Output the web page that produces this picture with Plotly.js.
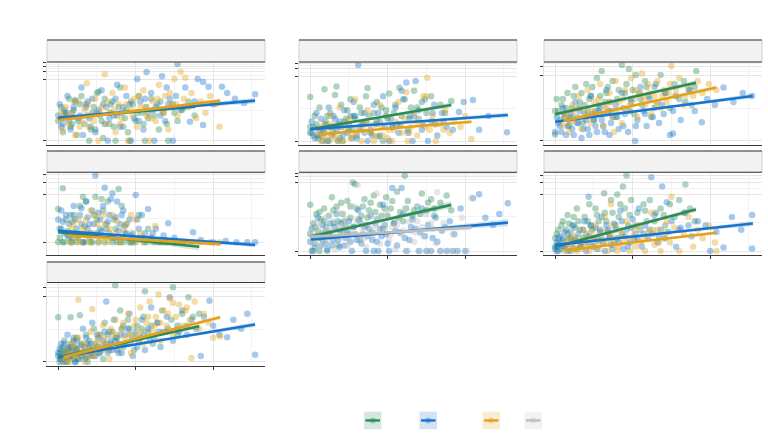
<!DOCTYPE html>
<html>
<head>
<meta charset="utf-8">
<script src="https://cdn.plot.ly/plotly-3.0.1.min.js"></script>
<style>
  html, body { margin: 0; padding: 0; background: #fff; }
  #chart { width: 768px; height: 442px; }
</style>
</head>
<body>
<div id="chart"></div>
<script>
// series colours (legend order)
const groups = ["green", "blue", "orange", "gray"];
const groupRgb = {
  green: [46, 139, 87],
  blue: [24, 116, 205],
  orange: [227, 162, 26],
  gray: [190, 190, 190],
};

// y values are log10(1 + n); x shared by every panel
const xMajor = [0, 50, 100];
const xMinor = [25, 75, 125];

// tick counts per panel (y axis is log10(1 + n))
const p1Ticks = [0, 150, 300, 450, 600];
const p2Ticks = [0, 200, 400, 600, 800];
const p3Ticks = [0, 150, 300, 450];
const p4Ticks = [0, 10, 20, 30];
const p5Ticks = [0, 5000, 10000, 15000, 20000];
const p6Ticks = [0, 20, 40, 60];
const p7Ticks = [0, 150, 300, 450];

// panel 1
const p1Green = [[0,0.7],[2,1.2],[3,0.3],[5,0.9],[7,1.5],[8,0.5],[10,1.1],[12,0.2],[13,0.8],[15,1.6],[17,0.6],[18,1.3],[20,0],[22,1.0],[24,0.4],[25,1.7],[27,0.9],[29,0.1],[31,1.2],[33,0.6],[35,1.4],[37,0],[38,0.9],[40,1.9],[42,0.5],[44,1.1],[46,0],[48,1.3],[50,0.7],[52,1.6],[54,1.0],[56,0],[58,0.8],[60,1.5],[63,1.2],[65,0.4],[68,1.0],[71,0],[74,1.3],[77,0.7],[80,1.1],[84,1.4],[88,0.9],[11,1.45],[26,1.75],[45,0.3],
  [4,1.0],[9,0.6],[14,1.3],[19,0.9],[21,0.4],[23,1.2],[28,0.7],[30,1.5],[34,1.0],[36,0.5],[39,1.2],[43,0.8],[47,1.4],[51,1.0],[55,0.6],[57,1.2],[62,0.9],[66,1.4],[70,0.6],[75,1.0]];
const p1Blue = [[0,0.9],[1,1.3],[3,0.6],[4,1.1],[6,1.6],[8,0.4],[9,1.0],[11,1.4],[13,0.7],[15,1.9],[16,0.2],[18,1.2],[20,0.8],[22,1.5],[24,0.3],[26,1.1],[28,1.8],[30,0.6],[32,0],[34,1.3],[36,0.9],[38,2.0],[40,0.5],[42,1.2],[44,1.6],[47,0],[49,0.8],[51,2.2],[53,1.4],[55,0.4],[58,1.0],[60,1.7],[62,0],[64,1.3],[67,2.3],[69,0.7],[72,1.5],[74,0],[77,2.74],[79,1.1],[82,1.9],[85,0.68],[88,1.4],[90,2.2],[93.5,2.1],[93.5,0.56],[97,1.93],[100,1.3],[105.6,1.93],[109,1.7],[114,1.5],[120,1.35],[127,1.66],[70,1.9],[57,2.45],
  [2,0.5],[5,1.0],[7,0.7],[10,1.2],[14,0.9],[19,1.4],[21,0.5],[25,1.0],[29,1.3],[33,0.8],[37,1.5],[41,1.0],[46,1.3],[52,0.7],[56,1.5],[61,1.1],[66,0.9],[71,1.3],[76,1.6],[81,1.2]];
const p1Orange = [[1,0.8],[3,0.4],[5,1.2],[7,0.6],[9,1.0],[11,0.2],[13,1.4],[15,0.7],[17,1.1],[18.5,2.05],[20,0.5],[22,0.9],[24,1.5],[26,0],[28,1.2],[30,2.37],[31,0.6],[33,1.0],[35,1.7],[37,0.3],[39,1.3],[41,0.8],[43,1.9],[45,0],[47,1.1],[49,1.5],[51,0.5],[53,1.2],[55,1.8],[57,0.9],[59,0],[61,1.4],[63,0.7],[65,2.0],[67,1.1],[69,1.6],[71,0.4],[73,1.3],[75,2.2],[77,0.9],[79,2.46],[82,2.25],[84,1.2],[86,1.7],[89,0.8],[92,1.4],[95,1.0],[98,1.6],[102,1.3],[104,0.5],
  [2,1.0],[6,0.9],[10,1.4],[14,0.5],[19,1.3],[23,0.7],[27,1.0],[32,1.4],[36,1.1],[40,0.6],[44,1.3],[48,0.9],[52,1.6],[56,1.2],[60,0.8],[64,1.5],[68,1.0],[72,1.7],[76,1.3],[81,1.5]];
const p1Fit = {
  green: { x: [0.2, 88.4], y: [0.8, 1.21], se: [0.08, 0.03, 0.07] },
  blue: { x: [0.2, 127], y: [0.82, 1.43], se: [0.06, 0.025, 0.1] },
  orange: { x: [1.3, 104.5], y: [0.74, 1.43], se: [0.07, 0.03, 0.08] },
};

// panel 2
const p2Green = [[0,1.58],[0,0.5],[2,0.2],[3,0.9],[5,0.1],[6,1.2],[8,0.4],[9.2,1.85],[10,0.7],[12,0],[13,1.0],[15,0.3],[17,1.95],[18,0.6],[20,1.3],[21,0],[23,0.8],[25,0.4],[26,1.5],[28,0.9],[30,0.2],[32,1.2],[34,0.6],[36,1.6],[37,1.9],[39,0.3],[41,1.0],[43,1.4],[45,0.7],[47,0],[49,1.1],[51,1.7],[53,0.5],[55,1.3],[57.6,1.91],[59,0.9],[61,1.5],[63,0.4],[65,1.2],[67,1.8],[70,0.8],[72,1.4],[75,1.0],[78,1.6],[81,0.6],[84,1.3],[87,1.0],[91,1.43],[16,1.65],[44,0.15],
  [1,0.3],[4,0.6],[7,0.2],[11,0.9],[14,0.5],[19,0.1],[22,0.7],[24,1.1],[27,0.4],[29,0.8],[33,1.0],[35,0.3],[38,0.9],[42,0.6],[46,1.2],[50,0.8],[54,1.0],[58,0.6],[64,0.9],[69,1.2]];
const p2Blue = [[0,0.3],[1,0.7],[3,0.1],[4,1.0],[6,0.4],[8,0],[10,0.6],[12,1.2],[14,0.2],[16,0.8],[18,0],[20,0.5],[22,1.1],[24,0.3],[26,0.9],[28,1.4],[31,2.72],[30,0.1],[33,0.6],[35,1.0],[37,0],[39,0.4],[41,1.3],[43,0.7],[45,0.2],[47,1.6],[49,0.9],[51,0],[53,0.5],[55,1.2],[57,0.3],[59,1.8],[62,2.1],[64,0.8],[66,0],[68,2.15],[70,1.1],[72,0.4],[74,1.5],[76,0],[78,0.7],[80,1.3],[82,0.2],[85,1.0],[88,0.5],[92,0.4],[96,1.04],[99,1.4],[105,1.47],[109,0.4],[115,0.9],[127,0.31],[60,1.5],
  [2,0.5],[5,0.2],[7,0.8],[9,0.3],[11,0],[13,0.5],[15,0.9],[17,0.4],[19,0.7],[21,0.2],[25,0.6],[27,0.1],[29,0.9],[32,0.4],[36,0.7],[40,0.2],[44,1.0],[48,0.5],[52,0.8],[56,0.6],[63,0.3],[67,0.9],[73,0.6],[79,1.0],[86,0.7]];
const p2Orange = [[5,0.3],[7,0],[9,0.6],[11,0.2],[13,0.9],[15,0.1],[17,0.5],[19,1.2],[21,0],[23,0.4],[25,0.8],[27,0.2],[29,1.5],[31,0.5],[33,0],[35,0.7],[37,1.1],[39,0.3],[41,0],[43,0.6],[45,1.3],[47,0.2],[49,0.9],[51,0.4],[53,0],[55,0.7],[57,1.4],[59,0.3],[61,0.8],[63,0],[65,0.5],[67,1.0],[69,0.2],[71,0.6],[73,1.6],[75.5,2.27],[75,1.6],[77,0.4],[79,0.9],[81,0],[84,0.6],[87,1.1],[90,0.3],[93,0.7],[97,0.5],[100,0.9],[104,0.07],[62,1.75],
  [6,0.5],[8,0.2],[10,0],[12,0.4],[14,0.6],[16,0.2],[18,0],[22,0.6],[26,0.1],[30,0.3],[34,0.4],[38,0.6],[42,0.2],[46,0.5],[50,0.1],[54,0.4],[58,0.6],[64,0.3],[68,0.7],[74,0.5],[80,0.6],[86,0.4]];
const p2Fit = {
  green: { x: [0, 91], y: [0.42, 1.29], se: [0.07, 0.03, 0.09] },
  blue: { x: [0, 127.5], y: [0.42, 0.93], se: [0.05, 0.02, 0.09] },
  orange: { x: [6, 104], y: [0.24, 0.69], se: [0.05, 0.02, 0.06] },
};

// panel 3
const p3Green = [[0,0.22],[0,1.0],[1,1.4],[3,0.7],[4,1.2],[6,0.9],[8,1.6],[9,0.5],[11,1.1],[13,1.8],[14,0.8],[16,1.3],[18,0.6],[20,1.9],[21,1.0],[23,1.5],[25,0.7],[27,2.1],[28,1.2],[30,2.33],[31,0.9],[33,1.6],[35,1.3],[37,2.0],[39,0.8],[41,1.7],[43,2.53],[44,1.1],[46,1.9],[47.5,2.4],[49,1.4],[51,0.9],[52,2.2],[54,1.6],[56,1.2],[58,2.0],[60,1.5],[62,0.8],[64,1.8],[66,1.3],[68,2.2],[71,1.6],[74,1.1],[77,1.9],[80,1.4],[83,2.0],[86,1.7],[88,1.2],[91,2.33],[90,1.8],
  [2,1.0],[5,1.4],[7,1.1],[10,0.8],[12,1.5],[15,1.1],[17,1.6],[19,1.2],[22,1.4],[24,1.8],[26,1.0],[29,1.5],[32,1.3],[34,1.8],[36,1.0],[40,1.4],[45,1.6],[50,1.7],[55,1.4],[59,1.8]];
const p3Blue = [[0,0.3],[1,0.8],[3,0.5],[5,1.1],[7,0.2],[9,0.7],[11,0.4],[13,1.3],[15,0.6],[17,0.1],[19,0.9],[21,0.4],[23,1.5],[25,0.7],[27,0.3],[29,1.1],[31,0.5],[33,1.7],[35,0.2],[37,0.8],[39,1.2],[41,0.4],[43,1.6],[45,0.9],[47,0.3],[49,1.3],[51.6,0],[53,0.7],[55,1.8],[57,1.0],[59,0.5],[61,1.4],[63,0.8],[65,1.9],[67,0.6],[69,1.2],[71,1.6],[74,0.2],[76,1.0],[78,1.5],[81,0.7],[84,1.3],[87,1.7],[90,1.0],[94.6,0.62],[98,1.4],[103,1.2],[108.6,1.78],[115,1.3],[121,1.6],[127,1.5],[76,0.25],
  [2,0.6],[4,0.3],[6,0.8],[8,0.5],[10,0.9],[12,0.2],[14,0.6],[16,1.0],[18,0.4],[20,0.7],[22,0.2],[24,0.9],[26,0.5],[28,1.0],[30,0.7],[32,0.3],[34,1.0],[36,0.6],[40,0.8],[44,0.5],[48,1.0],[52,0.5],[58,0.9],[64,1.1],[70,0.9]];
const p3Orange = [[5,0.5],[7,0.9],[9,0.3],[11,1.2],[13,0.7],[15,1.5],[17,0.4],[19,1.0],[21,1.7],[23,0.6],[25,1.3],[27,0.9],[29,1.9],[31,0.5],[33,1.1],[35,1.6],[37,0.8],[39,2.0],[41,1.3],[43,0.6],[45,1.7],[47,1.0],[49,2.1],[51,1.4],[53,0.8],[56,2.25],[55,1.6],[58,1.2],[60,1.9],[62,0.9],[64,1.5],[66,2.0],[68,1.1],[70,1.7],[72,1.3],[75,2.5],[74,1.9],[77,1.5],[80,2.1],[83,1.2],[86,1.8],[89,1.5],[92,2.0],[95,1.6],[99,1.9],[104,1.7],[38,0.3],
  [6,0.8],[10,0.6],[12,1.0],[16,1.1],[20,0.8],[24,1.0],[28,1.4],[32,1.2],[36,1.3],[40,1.0],[44,1.4],[48,1.2],[52,1.7],[57,1.4],[61,1.6],[65,1.2],[69,1.5],[73,1.6],[78,1.7],[84,1.5]];
const p3Fit = {
  green: { x: [0, 90.8], y: [0.89, 1.94], se: [0.07, 0.03, 0.08] },
  blue: { x: [0, 127.5], y: [0.64, 1.5], se: [0.05, 0.02, 0.08] },
  orange: { x: [5.4, 103.9], y: [0.67, 1.78], se: [0.07, 0.03, 0.08] },
};

// panel 4
const p4Green = [[0,0.73],[3,1.19],[0,0],[2,0.3],[4,0],[5,0.5],[7,0.1],[8,0],[10,0.6],[11,0.2],[12,0],[14,0.8],[15,0.4],[17,0],[18,0.9],[20,0.1],[21,0],[23,0.6],[24,1.0],[26,0],[27,0.3],[29,0.7],[30,0],[32,0.9],[33,0.2],[35,0],[36,0.5],[38,0],[39,1.17],[41,0.8],[42,0],[44,0.4],[46,0],[48,0.2],[50,0],[52,0.6],[55,0],[58,0.3],[61,0],[65,0],[70,0],[75,0],[80,0],[16,1.0],[28,0.95],[9,0.45],
  [1,0.1],[3,0],[6,0.25],[9,0],[13,0.1],[16,0],[19,0.3],[22,0],[25,0.5],[31,0.4],[34,0.1],[37,0.3],[40,0],[43,0.2],[47,0],[53,0.1],[57,0],[63,0],[68,0]];
const p4Blue = [[0,0.5],[1,0.3],[2,0.7],[4,0.2],[5,0.6],[7,0.4],[9,0.1],[10,0.8],[12,0.3],[14,0.6],[16,0],[18,0.9],[20,0.4],[22,0.7],[24,1.47],[25,0.2],[27,0.5],[29,0.8],[31,0.3],[33,0.6],[35,1.08],[36,0.1],[38,0.9],[40,0.4],[42,0.7],[44,0.2],[46,0.5],[48,0],[50,1.04],[52,0.3],[54,0.6],[56,0.2],[58,0.73],[60,0.1],[63,0.3],[66,0],[71,0.42],[75,0.1],[80,0],[87,0.22],[92,0.05],[100,0],[108,0.03],[115,0],[122,0],[127,0],[30,1.2],[34,0.95],
  [3,0.45],[6,0.15],[8,0.6],[11,0.5],[13,0.15],[15,0.75],[17,0.35],[19,0.55],[21,0.2],[23,0.4],[26,0.65],[28,0.25],[32,0.45],[37,0.55],[39,0.25],[41,0.6],[43,0.35],[47,0.15],[51,0.5],[55,0.1],[61,0.2],[68,0.15]];
const p4Orange = [[6,0.2],[8,0],[10,0.4],[12,0.1],[14,0],[16,0.3],[18,0.5],[20,0],[22,0.2],[24,0.6],[26,0],[28,0.1],[30,0.4],[32,0],[35,0.6],[37,0.2],[40,0],[42,0.3],[45,0.1],[48,0],[50,0.5],[53,0.2],[56,0],[59,0.1],[62.6,0.36],[66,0],[70,0.05],[75,0],[80,0],[86,0],[92,0],[98,0],[104,0],
  [9,0.3],[13,0.5],[17,0.2],[21,0.7],[25,0.4],[29,0.6],[33,0.3],[38,0.45],[44,0.4],[47,0.6]];
const p4Fit = {
  green: { x: [0, 91], y: [0.22, -0.1], se: [0.03, 0.015, 0.08] },
  blue: { x: [0, 127], y: [0.25, -0.06], se: [0.04, 0.015, 0.05] },
  orange: { x: [6.6, 104.5], y: [0.145, -0.04], se: [0.03, 0.015, 0.04] },
};

// panel 5
const p5Green = [[0,2.5],[0,0.9],[1,0],[2,1.5],[3,0.4],[4,2.0],[5,1.1],[6,0],[7,1.7],[8,0.6],[9,2.3],[10,1.3],[11,0],[12,1.9],[14,2.9],[13,0.8],[15,1.5],[17,2.4],[18,0.3],[19,1.1],[21,2.0],[22,1.6],[24,2.7],[25,0.9],[27.5,3.7],[26,1.8],[29,3.6],[28,1.3],[30,2.3],[32,0.6],[33,1.9],[35,2.8],[36,1.4],[38,2.2],[40,1.0],[41,3.0],[43,1.7],[45,2.5],[47,1.2],[49,2.9],[50,1.9],[52,2.3],[54,1.5],[56,3.2],[58,2.1],[61,4.07],[60,1.6],[63,2.7],[66,1.9],[69,2.4],[72,3.1],[75,2.2],[78,2.8],[81,1.8],[84,2.6],[88,3.0],[91,2.2],
  [3,1.3],[6,2.1],[9,1.6],[12,1.0],[15,2.2],[18,1.6],[20,2.6],[23,1.3],[26,2.4],[31,1.7],[34,2.4],[37,1.8],[39,2.6],[42,2.1],[46,1.9],[48,2.3],[53,2.7],[57,1.8],[62,2.3],[67,2.2],[71,2.0],[76,2.6],[80,2.3]];
const p5Blue = [[0,0.5],[1,1.2],[2,0],[4,0.8],[5,1.8],[7,0.3],[9,1.0],[11,0.1],[13,1.5],[15,0.6],[17,2.0],[19,0.2],[21,1.1],[23,0.7],[25,1.6],[27,0],[29,0.9],[31,2.2],[33,0.4],[35,1.3],[37,0.8],[39,1.9],[41,0],[43,0.5],[45,1.2],[47,2.5],[49,0.9],[51,0],[53,3.4],[54,1.5],[56,0.3],[59,3.4],[58,1.0],[60,2.0],[62,0],[64,0.6],[66,1.7],[68,1.2],[70,0],[72,2.3],[74,0.8],[76,1.4],[78,0],[80,1.9],[82,0.5],[85,1.1],[88,0],[90,1.6],[93,0.9],[97,2.3],[100,0],[105,2.85],[109,3.06],[113,1.8],[118,1.4],[122,2.0],[127.5,2.58],
  [3,0.2],[6,0.7],[8,1.4],[10,0.4],[12,0.9],[14,0.3],[16,1.3],[18,0.6],[20,1.5],[22,0.3],[24,1.0],[26,0.5],[28,1.3],[30,0.6],[32,1.6],[34,0.9],[36,0],[38,1.2],[40,0.6],[42,1.5],[44,0],[46,0.8],[48,1.4],[50,0.4],[55,1.1],[61,0.7],[65,1.3],[71,1.0],[75,0],[79,0.7],[84,0],[87,1.3],[92,0],[95,0]];
const p5Gray = [[0,1.0],[2,0.4],[4,1.5],[6,0.2],[8,0.9],[10,1.8],[12,0.5],[14,1.2],[16,0.1],[18,2.1],[20,0.7],[22,1.4],[24,0.3],[26,1.0],[28,2.4],[30.7,3.57],[30,1.6],[32,0.6],[34,1.2],[36,0.2],[38,1.9],[40,0.8],[43,3.1],[42,1.4],[45,0.4],[47,1.0],[49,2.0],[51,0.6],[53,1.3],[55,0.1],[57,1.7],[59,0.9],[61,2.3],[63,0],[65,1.1],[67,0.5],[69,1.6],[71,0],[73,0.8],[75,2.0],[77,0],[79,1.2],[82,3.17],[81,0.4],[84,0],[86,1.5],[89,0],[92,0.9],[95,0],[98,1.8],[101,0],[104,2.88],
  [1,0.6],[3,1.2],[5,0.8],[7,1.4],[9,0.5],[11,1.1],[13,0.8],[15,1.6],[17,0.6],[19,1.3],[21,1.0],[23,1.7],[25,0.6],[27,1.3],[29,0.9],[33,1.5],[35,0.7],[37,1.4],[41,1.1],[44,1.8],[48,1.3],[52,0.9],[56,1.4],[60,1.1],[64,1.6],[68,1.0],[72,1.3],[78,1.5]];
const p5Fit = {
  green: { x: [0, 91], y: [0.77, 2.49], se: [0.15, 0.07, 0.2] },
  blue: { x: [0.6, 127.5], y: [0.63, 1.53], se: [0.1, 0.05, 0.2] },
  gray: { x: [0, 104], y: [0.77, 1.26], se: [0.12, 0.05, 0.15] },
};

// panel 6
const p6Green = [[0,0.1],[0,0.3],[1,0],[2,0.5],[3,0.2],[5,0.7],[6,0.1],[8,0.85],[8,0.4],[10,0],[11,0.6],[13,0.3],[14,1.0],[16,0.5],[17,0.1],[19,0.8],[20,0.4],[22,1.1],[23,0.6],[25,0.2],[26,1.0],[28,0.7],[30,0.3],[31.6,1.36],[32,0.9],[34,0.5],[36,1.2],[38,0.2],[40,1.33],[41,0.8],[43.7,1.52],[43,0.4],[46,1.78],[45,1.0],[47,0.6],[49,1.2],[51,0.3],[53,0.9],[55,0.5],[57,1.1],[59,0.7],[61,1.2],[63,0.4],[65,0.9],[68,1.0],[71,0.6],[74,1.1],[77,0.8],[80,1.2],[84,1.57],[83,0.9],[87,1.0],[90,0.7],
  [1,0.4],[2,0.15],[4,0.6],[5,0.3],[7,0.5],[9,0.65],[10,0.3],[12,0.8],[13,0.55],[15,0.7],[18,0.3],[21,0.7],[24,0.5],[27,0.85],[29,0.5],[33,0.7],[35,0.3],[37,0.9],[39,0.6],[42,1.1],[48,0.85],[52,0.6],[58,0.95],[64,0.7],[70,0.85]];
const p6Blue = [[0,0.05],[1,0.2],[2,0],[3,0.35],[5,0.1],[6,0.45],[8,0],[9,0.3],[11,0.15],[12,0.6],[14,0.05],[15,0.4],[17,0.2],[19,0.7],[20,0],[21.5,1.28],[22,0.35],[24,0.1],[26,0.55],[28,0.25],[30,0.8],[32,0],[34,0.45],[36,0.15],[38,0.65],[40,0.3],[42,0.95],[44,0.05],[46,0.5],[48,0.2],[50,0.75],[52,0.4],[54,1.0],[56,0.1],[58,0.6],[60,0.3],[62,1.74],[64,0.85],[66,0.2],[69,1.52],[68,0.5],[72,1.15],[71,0.3],[75,0.7],[78,0.1],[81,0.55],[84,0.9],[88,0.35],[92,0.7],[97,0.6],[100,0],[104,0.45],[108.6,0.08],[114,0.8],[120,0.5],[127,0.06],[127,0.85],
  [1,0.1],[2,0.3],[4,0.05],[5,0.25],[7,0.15],[10,0.45],[13,0.25],[16,0.1],[18,0.5],[21,0.2],[23,0.6],[25,0.3],[27,0.05],[29,0.45],[31,0.2],[33,0.6],[35,0.35],[37,0.05],[39,0.5],[41,0.2],[43,0.7],[45,0.35],[47,0.1],[49,0.55],[53,0.3],[57,0.4],[61,0.5],[67,0.35],[73,0.45],[80,0.5],[86,0.6]];
const p6Orange = [[6,0],[8,0.2],[10,0.05],[12,0.35],[14,0],[16,0.15],[18,0.5],[20,0.1],[22,0],[24,0.3],[26,0.6],[28,0.05],[30,0.25],[32,0.8],[34,0],[36,1.1],[36,0.4],[38,0.15],[40,0],[42,0.5],[44,0.2],[46,0.7],[48,0],[50,0.35],[52,0.1],[54,0.6],[56,0.25],[58,0],[60,0.45],[62,0.9],[64,0.15],[66,0.5],[68,0],[70,0.3],[72,0.7],[75,1.28],[74,0.2],[77,0.55],[80,0],[83,0.4],[86,0.8],[89,0.1],[92,0.5],[95,0.3],[99,0.6],[103,0.2],[104,0],
  [7,0.1],[9,0.3],[11,0.15],[13,0.05],[15,0.25],[17,0.05],[19,0.3],[21,0.2],[23,0.45],[25,0.1],[27,0.35],[29,0.15],[31,0.45],[33,0.2],[35,0.35],[37,0.6],[39,0.3],[41,0.1],[43,0.35],[47,0.3],[51,0.5],[55,0.2],[59,0.35],[63,0.5],[67,0.2],[71,0.45]];
const p6Fit = {
  green: { x: [0, 90.8], y: [0.1, 0.98], se: [0.04, 0.02, 0.06] },
  blue: { x: [0, 127.5], y: [0.14, 0.65], se: [0.03, 0.015, 0.06] },
  orange: { x: [6.5, 104], y: [0.02, 0.43], se: [0.03, 0.015, 0.04] },
};

// panel 7
const p7Green = [[0,1.48],[0,0.2],[1,0],[2,0.4],[3,0.1],[4,0.7],[5,0.3],[6,0],[8,1.48],[7,0.5],[9,0.2],[10,0.8],[11,0],[12,0.4],[14,1.55],[13,0.1],[15,0.6],[16,0.3],[18,0.9],[19,0],[20,0.5],[22,0.2],[23,1.1],[24,0.6],[26,0.3],[27,0.9],[29,0.1],[30,1.3],[31,0.6],[33,0.4],[35,1.0],[36.8,2.54],[37,0.7],[39,0.3],[40,1.7],[41,1.1],[43,0.6],[45,1.4],[47,0.9],[49,0.4],[51,1.2],[53,0.8],[56,2.34],[55,1.5],[58,1.0],[61,0.6],[64,1.3],[67,1.7],[70,1.0],[74,2.47],[73,1.4],[77,0.9],[80,1.6],[84,2.14],[83,1.2],[87,1.5],[91,1.6],
  [1,0.3],[2,0.1],[3,0.5],[4,0.2],[5,0],[6,0.4],[7,0.15],[8,0.6],[9,0.35],[10,0.1],[11,0.5],[12,0.8],[13,0.3],[15,0.2],[17,0.5],[18,0.15],[20,0.7],[21,0.3],[25,0.5],[28,0.4],[32,0.9],[34,0.6],[38,0.8],[42,0.5],[46,1.1],[50,0.8],[54,1.1],[60,1.2]];
const p7Blue = [[0,0.3],[1,0.1],[2,0.6],[3,0],[5,0.4],[6,0.9],[8,0.2],[9,0.5],[11,0],[12,0.7],[14,0.3],[16,1.1],[17,0.1],[19,0.6],[21,0.4],[22,1.3],[24,0.2],[26,0.8],[28,0.5],[31,2.0],[30,1.0],[32,0.3],[34,0.7],[36,1.4],[38,0.4],[40,0.9],[42,1.2],[44,0.6],[46,1.6],[48,0.2],[50,1.0],[52,0.7],[54,1.4],[56,0.4],[58,1.1],[60,1.8],[62,0.8],[64,1.3],[66,0.5],[68,1.0],[72,2.14],[70,1.5],[74,0.7],[77,1.2],[80,1.7],[83,0.9],[86,1.4],[89,1.1],[92,0.2],[94,1.5],[97.6,2.03],[100,1.2],[104,0.9],[109,0.82],[113,1.4],[118,1.1],[122,1.6],[127,0.24],
  [1,0.45],[2,0.2],[4,0.3],[4,0.6],[6,0.15],[7,0.45],[9,0.3],[10,0.7],[12,0.45],[13,0.1],[15,0.55],[17,0.35],[18,0.8],[20,0.2],[21,0.6],[23,0.4],[25,0.9],[27,0.3],[29,0.7],[31,0.5],[33,1.0],[35,0.4],[37,0.8],[39,0.6],[41,0.3],[43,0.9],[45,1.1],[47,0.7],[51,0.5],[55,0.9],[59,0.7],[65,1.0],[71,1.1],[78,1.0]];
const p7Orange = [[3,0.1],[5,0.4],[7,0],[9,0.6],[11,0.2],[13,2.06],[13,0.8],[15,0.3],[17,0],[19,0.5],[21,1.0],[22,1.75],[23,0.2],[25,0.7],[27,0.4],[29,1.2],[31,0.6],[33,0.1],[35,0.9],[37,1.4],[39,0.5],[41,1.1],[43,0.8],[45,1.6],[47,0.3],[49,1.2],[51,0.9],[53,1.8],[55,0.6],[57,1.3],[59,2.0],[61,1.0],[64.7,2.23],[63,1.5],[66,0.7],[68,1.7],[70,1.2],[72,2.1],[74,1.95],[74,0.9],[76,1.5],[78,1.9],[80,1.2],[82,1.7],[86,0.13],[85,1.4],[88,2.0],[91,1.1],[94,1.6],[97,1.3],[100,0.8],[104.5,0.85],
  [4,0.2],[6,0.1],[8,0.3],[10,0.5],[12,0.2],[14,0.4],[16,0.6],[18,0.3],[20,0.2],[24,0.5],[26,0.9],[28,0.6],[30,0.8],[32,0.4],[34,1.1],[38,0.9],[42,1.3],[46,0.9],[50,1.4],[54,1.0],[58,1.5],[62,1.2],[66,1.3],[71,1.6],[77,1.1],[83,1.8]];
const p7Fit = {
  green: { x: [0, 91], y: [0.16, 1.18], se: [0.05, 0.02, 0.06] },
  blue: { x: [0, 127], y: [0.16, 1.24], se: [0.05, 0.02, 0.08] },
  orange: { x: [3.4, 104.5], y: [0.16, 1.48], se: [0.07, 0.03, 0.07] },
};

// page geometry (pixels)
const W = 768, H = 442;
const colPx = [[47, 265], [299, 517], [544, 762]];
const rowPx = [[62, 144.5], [172.3, 255], [282.5, 365.5]];
const stripPx = [[40, 62], [151, 172.3], [262, 282.5]];
const xRange = [-7.2, 133.4];

const panels = [
  { col: 0, row: 0, points: { green: p1Green, blue: p1Blue, orange: p1Orange }, fit: p1Fit, ticks: p1Ticks, range: [-0.136, 2.81], xTicks: false },
  { col: 1, row: 0, points: { green: p2Green, blue: p2Blue, orange: p2Orange }, fit: p2Fit, ticks: p2Ticks, range: [-0.125, 2.83], xTicks: false },
  { col: 2, row: 0, points: { green: p3Green, blue: p3Blue, orange: p3Orange }, fit: p3Fit, ticks: p3Ticks, range: [-0.117, 2.63], xTicks: false },
  { col: 0, row: 1, points: { green: p4Green, blue: p4Blue, orange: p4Orange }, fit: p4Fit, ticks: p4Ticks, range: [-0.28, 1.54], xTicks: false },
  { col: 1, row: 1, points: { green: p5Green, blue: p5Blue, gray: p5Gray }, fit: p5Fit, ticks: p5Ticks, range: [-0.216, 4.25], xTicks: true },
  { col: 2, row: 1, points: { green: p6Green, blue: p6Blue, orange: p6Orange }, fit: p6Fit, ticks: p6Ticks, range: [-0.094, 1.856], xTicks: true },
  { col: 0, row: 2, points: { green: p7Green, blue: p7Blue, orange: p7Orange }, fit: p7Fit, ticks: p7Ticks, range: [-0.116, 2.63], xTicks: true },
];

function rgba(g, a) {
  const c = groupRgb[g];
  return "rgba(" + c[0] + "," + c[1] + "," + c[2] + "," + a + ")";
}

const traces = [];
const layout = {
  width: W,
  height: H,
  margin: { l: 0, r: 0, t: 0, b: 0 },
  paper_bgcolor: "#fff",
  plot_bgcolor: "#fff",
  showlegend: false,
  shapes: [],
};

panels.forEach((p, i) => {
  const n = i === 0 ? "" : String(i + 1);
  const xa = "x" + n, ya = "y" + n;

  // points first, then ribbons and lines on top
  groups.forEach((g) => {
    const pts = p.points[g];
    if (!pts) return;
    traces.push({
      type: "scatter", mode: "markers", xaxis: xa, yaxis: ya,
      x: pts.map((d) => d[0]), y: pts.map((d) => d[1]),
      marker: { size: 6.5, color: rgba(g, 1), opacity: 0.38, line: { width: 0 } },
      hoverinfo: "skip",
    });
  });
  groups.forEach((g) => {
    const f = p.fit[g];
    if (!f) return;
    const xs = [f.x[0], (f.x[0] + f.x[1]) / 2, f.x[1]];
    const ys = [f.y[0], (f.y[0] + f.y[1]) / 2, f.y[1]];
    const up = ys.map((v, k) => v + f.se[k]);
    const lo = ys.map((v, k) => v - f.se[k]);
    traces.push({
      type: "scatter", mode: "lines", xaxis: xa, yaxis: ya,
      x: xs.concat(xs.slice().reverse()), y: up.concat(lo.slice().reverse()),
      fill: "toself", fillcolor: rgba(g, 0.2), line: { width: 0 }, hoverinfo: "skip",
    });
    traces.push({
      type: "scatter", mode: "lines", xaxis: xa, yaxis: ya,
      x: f.x, y: f.y, line: { color: rgba(g, 1), width: 2.6 }, hoverinfo: "skip",
    });
  });

  const yTickVals = p.ticks.map((c) => Math.log10(1 + c));
  const yMinor = [];
  for (let k = 0; k < yTickVals.length - 1; k++) yMinor.push((yTickVals[k] + yTickVals[k + 1]) / 2);

  const cx = colPx[p.col], ry = rowPx[p.row];
  layout["xaxis" + n] = {
    domain: [cx[0] / W, cx[1] / W], anchor: ya, range: xRange, fixedrange: true,
    tickmode: "array", tickvals: xMajor, showticklabels: false,
    ticks: p.xTicks ? "outside" : "", ticklen: 3, tickwidth: 1, tickcolor: "#333",
    showgrid: true, gridcolor: "#e6e6e6", gridwidth: 1, zeroline: false,
    showline: true, linecolor: "#3a3a3a", linewidth: 1,
    minor: { tickmode: "array", tickvals: xMinor, showgrid: true, gridcolor: "#f3f3f3", gridwidth: 1, ticks: "" },
  };
  layout["yaxis" + n] = {
    domain: [1 - ry[1] / H, 1 - ry[0] / H], anchor: xa, range: p.range, fixedrange: true,
    tickmode: "array", tickvals: yTickVals, showticklabels: false,
    ticks: "outside", ticklen: 3, tickwidth: 1, tickcolor: "#333",
    showgrid: true, gridcolor: "#e6e6e6", gridwidth: 1, zeroline: false,
    showline: true, linecolor: "#dcdcdc", linewidth: 1,
    minor: { tickmode: "array", tickvals: yMinor, showgrid: true, gridcolor: "#f3f3f3", gridwidth: 1, ticks: "" },
  };

  // facet strip
  const s = stripPx[p.row];
  layout.shapes.push({
    type: "rect", xref: "paper", yref: "paper", layer: "above",
    x0: cx[0] / W, x1: cx[1] / W, y0: 1 - s[1] / H, y1: 1 - s[0] / H,
    fillcolor: "#f2f2f2", line: { color: "#d0d0d0", width: 1 },
  });
  [s[0], s[1]].forEach((yy) => {
    layout.shapes.push({
      type: "line", xref: "paper", yref: "paper", layer: "above",
      x0: cx[0] / W, x1: cx[1] / W, y0: 1 - yy / H, y1: 1 - yy / H,
      line: { color: "#3a3a3a", width: 1.1 },
    });
  });
});

// legend keys (no labels)
const legendKeys = { green: 364, blue: 419.5, orange: 482.5, gray: 524.5 };
const keySize = 17.5, keyTop = 411.7;
groups.forEach((g) => {
  const x0 = legendKeys[g];
  const yc = keyTop + keySize / 2;
  layout.shapes.push({
    type: "rect", xref: "paper", yref: "paper",
    x0: x0 / W, x1: (x0 + keySize) / W, y0: 1 - (keyTop + keySize) / H, y1: 1 - keyTop / H,
    fillcolor: rgba(g, 0.2), line: { width: 0 },
  });
  layout.shapes.push({
    type: "circle", xref: "paper", yref: "paper",
    x0: (x0 + keySize / 2 - 3) / W, x1: (x0 + keySize / 2 + 3) / W, y0: 1 - (yc + 3) / H, y1: 1 - (yc - 3) / H,
    fillcolor: rgba(g, 0.35), line: { width: 0 },
  });
  layout.shapes.push({
    type: "line", xref: "paper", yref: "paper",
    x0: (x0 + 1.5) / W, x1: (x0 + keySize - 1.5) / W, y0: 1 - yc / H, y1: 1 - yc / H,
    line: { color: rgba(g, 1), width: 2.4 },
  });
});

Plotly.newPlot("chart", traces, layout, { staticPlot: true, displayModeBar: false });
</script>
</body>
</html>
